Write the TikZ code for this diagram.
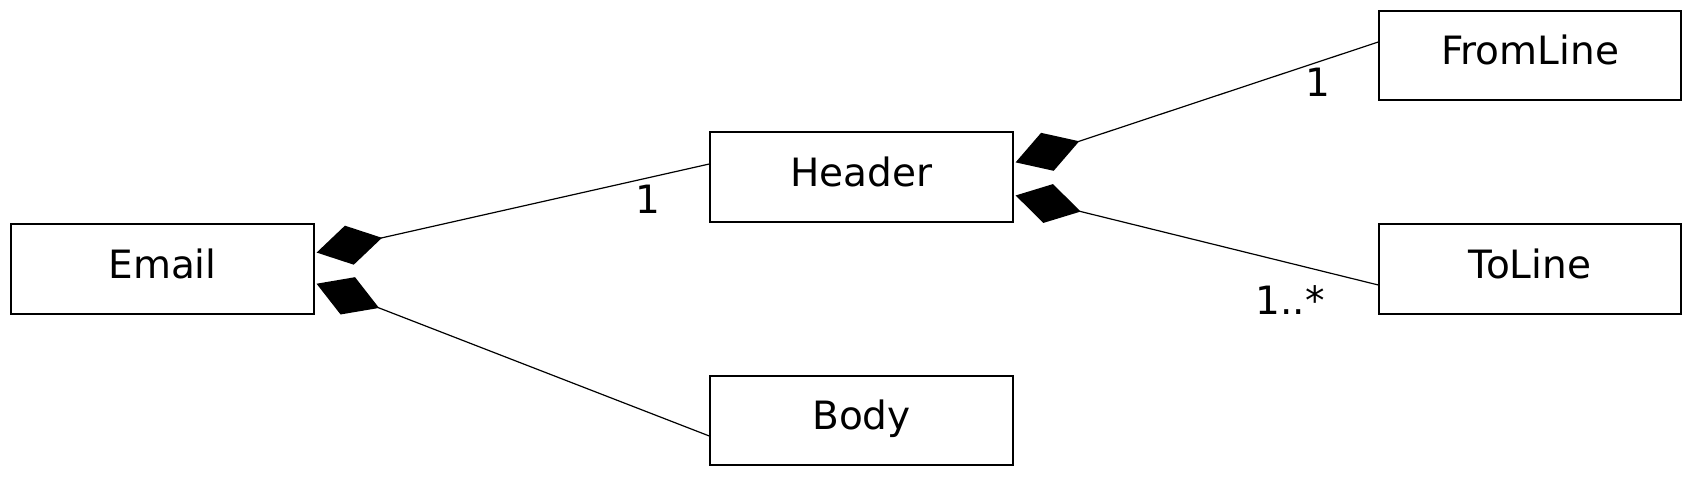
\documentclass[tikz,border=0pt]{standalone}
\usepackage{fontspec}
\setmainfont{DejaVu Sans}
\usetikzlibrary{arrows.meta}
\begin{document}
\begin{tikzpicture}[x=1pt,y=-1pt,
  cls/.style={draw=black, line width=1.4pt, fill=white, minimum width=303pt, minimum height=90pt, inner sep=0pt, text height=18.6pt, text depth=0pt, font=\fontsize{39}{44}\selectfont},
  comp/.style={draw=black, line width=1.2pt, {Diamond[length=67pt,width=40pt,line width=0pt]}-, shorten <=2pt},
  mult/.style={font=\fontsize{39}{44}\selectfont, inner sep=0pt}]
\useasboundingbox (0,0) rectangle (1692,494);
\node[cls] (Email) at (162.5,269) {Email};
\node[cls] (Header) at (861.5,177) {Header};
\node[cls, minimum height=89pt] (Body) at (861.5,420.5) {Body};
\node[cls, minimum width=302pt, minimum height=89pt] (FromLine) at (1530,55.5) {FromLine};
\node[cls, minimum width=302pt] (ToLine) at (1530,269) {ToLine};
\coordinate (e1) at ([yshift=16pt]Email.east);
\coordinate (e2) at ([yshift=-14pt]Email.east);
\coordinate (h0) at ([yshift=13pt]Header.west);
\coordinate (b0) at ([yshift=-15.5pt]Body.west);
\coordinate (h1) at ([yshift=14pt]Header.east);
\coordinate (h2) at ([yshift=-18pt]Header.east);
\coordinate (f0) at ([yshift=13.5pt]FromLine.west);
\coordinate (t0) at ([yshift=-16pt]ToLine.west);
\draw[comp] (e1) -- (h0);
\draw[comp] (e2) -- (b0);
\draw[comp] (h1) -- (f0);
\draw[comp] (h2) -- (t0);
\node[mult] (m1) at (648,199) {1};
\node[mult] (m2) at (1318,82) {1};
\node[mult] (m3) at (1290,300) {1..*};
\end{tikzpicture}
\end{document}
